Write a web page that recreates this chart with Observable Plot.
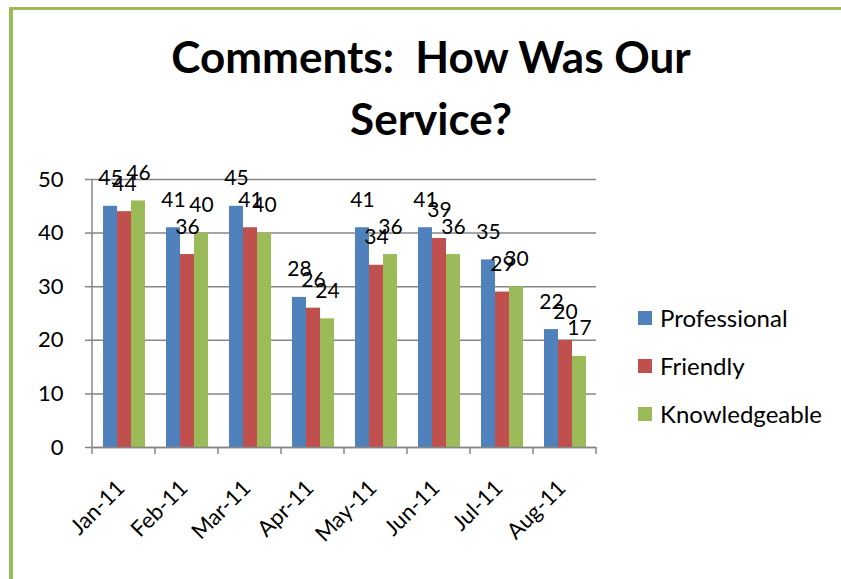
<!DOCTYPE html>
<html><head><meta charset="utf-8">
<script src="https://cdn.jsdelivr.net/npm/d3@7"></script>
<script src="https://cdn.jsdelivr.net/npm/@observablehq/plot@0.6"></script>
<style>
body{margin:0;background:#fff;}
#wrap{position:relative;width:841px;height:579px;overflow:hidden;background:#fff;font-family:Lato, sans-serif;}
#frame{position:absolute;left:9px;top:7px;right:-10px;bottom:-10px;border-left:4px solid #9bbb59;border-top:3px solid #9bbb59;}
#chart{position:absolute;left:0;top:0;}
#over{position:absolute;left:0;top:0;pointer-events:none;}
</style>
</head><body>
<div id="wrap"><div id="frame"></div><div id="chart"></div><svg id="over" width="841" height="579"></svg></div>
<script>
const titleLines = ["Comments:  How Was Our", "Service?"];
const months = ["Jan-11","Feb-11","Mar-11","Apr-11","May-11","Jun-11","Jul-11","Aug-11"];
const series = ["Professional","Friendly","Knowledgeable"];
const professional = [45,41,45,28,41,41,35,22];
const friendly = [44,36,41,26,34,39,29,20];
const knowledgeable = [46,40,40,24,36,36,30,17];
const colors = ["#4f81bd","#c0504d","#9bbb59"];
const yTicks = [0,10,20,30,40,50];

const valuesBySeries = [professional, friendly, knowledgeable];
const data = months.flatMap((m,i)=> series.map((s,j)=>({month:m, series:s, value: valuesBySeries[j][i]})));

const plot = Plot.plot({
  width: 841, height: 579,
  marginLeft: 92, marginRight: 245, marginTop: 179, marginBottom: 132,
  style: {fontFamily: "Lato, sans-serif", fontSize: "22px", color:"#000", background:"transparent", overflow:"visible"},
  fx: {domain: months, paddingInner: 0, paddingOuter: 0, label: null},
  x: {domain: series, paddingInner: 0, paddingOuter: 0.75, axis: null},
  y: {domain: [0,50], ticks: yTicks, label: null},
  color: {domain: series, range: colors},
  marks: [
    Plot.gridY(yTicks, {stroke:"#868686", strokeOpacity:1, strokeWidth:1.5}),
    Plot.barY(data, {fx:"month", x:"series", y:"value", fill:"series", inset:0}),
    Plot.ruleY([0], {stroke:"#868686", strokeWidth:1.5}),
    Plot.text(data, {fx:"month", x:"series", y:"value", text: d=>String(d.value), lineAnchor:"bottom", dy:-21, fill:"#000", fontSize:21}),
    Plot.axisY(yTicks, {anchor:"left", tickSize:7, tickPadding:22, stroke:"#868686", strokeWidth:1.5, fontSize:22, label:null}),
    Plot.axisFx({anchor:"bottom", tickSize:0, tickPadding:8, tickRotate:-45, fontSize:22, dx:-3, dy:29, label:null})
  ]
});
document.getElementById("chart").appendChild(plot);

// Excel-style axis line and category boundary ticks, from the plot's own scales
const svgEl = plot.tagName.toLowerCase() === "svg" ? plot : plot.querySelector("svg");
const svg = d3.select(svgEl);
const fx = plot.scale("fx"), y = plot.scale("y");
const step = (fx.range[1]-fx.range[0]) / months.length;
const bounds = months.map(m => fx.apply(m)).concat([fx.apply(months[months.length-1]) + step]);
const g = svg.append("g").attr("stroke","#868686").attr("stroke-width",1.5);
g.append("line").attr("x1",fx.range[0]).attr("x2",fx.range[0]).attr("y1",y.apply(0)).attr("y2",y.apply(50));
bounds.forEach(b => g.append("line").attr("x1",b).attr("x2",b).attr("y1",y.apply(0)).attr("y2",y.apply(0)+7));

// Title and legend
const over = d3.select("#over");
over.selectAll("text.title").data(titleLines).join("text").attr("class","title")
  .attr("x",431).attr("y",(d,i)=>73+i*62).attr("text-anchor","middle")
  .style("font-family","Lato, sans-serif").style("font-weight","bold").style("font-size","44px").style("white-space","pre")
  .text(d=>d);
const lg = over.selectAll("g.lg").data(series).join("g").attr("class","lg")
  .attr("transform",(d,i)=>`translate(638,${318+i*48})`);
lg.append("rect").attr("x",0).attr("y",-7).attr("width",14).attr("height",14).attr("fill",(d,i)=>colors[i]);
lg.append("text").attr("x",22).attr("y",0).attr("dy","0.36em")
  .style("font-family","Lato, sans-serif").style("font-size","24px").text(d=>d);
</script>
</body></html>
